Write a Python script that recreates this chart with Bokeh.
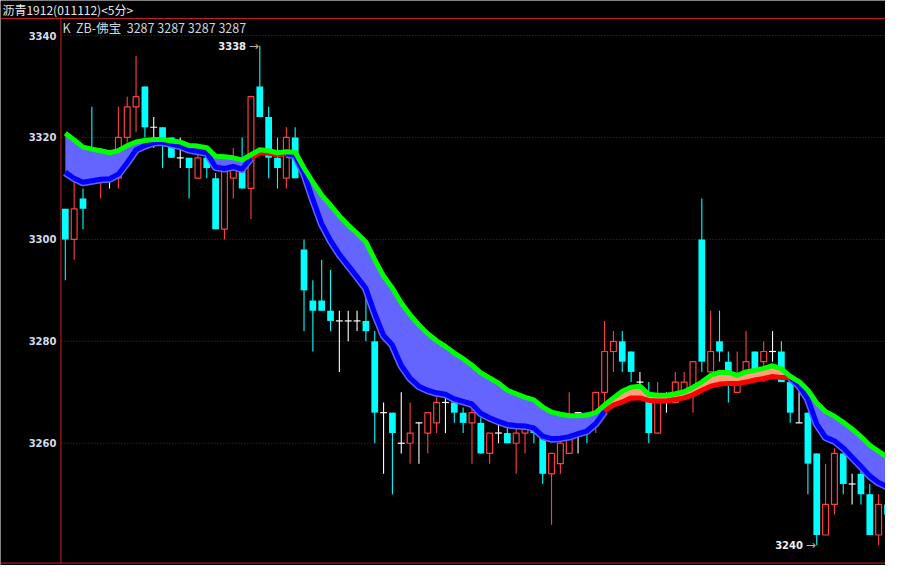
from bokeh.plotting import figure
from bokeh.models import Range1d
from bokeh.core.properties import value
from bokeh.embed import file_html
from bokeh.resources import INLINE

# ---------------- data ----------------
title_text = "沥青1912(011112)<5分>"
legend_text = "K\u00a0\u00a0ZB-佛宝\u00a0\u00a03287 3287 3287 3287"
y_ticks = [3340, 3320, 3300, 3280, 3260]

opens = [3306, 3300, 3308, 3316, 3312, 3314, 3312, 3320, 3326, 3330,
         3322, 3322, 3320, 3316, 3316, 3312, 3316, 3312, 3302, 3312,
         3315, 3310, 3330, 3324, 3316, 3312, 3320, 3298, 3288, 3288,
         3286, 3284, 3284, 3284, 3284, 3280, 3266, 3266, 3260, 3260,
         3264, 3262, 3264, 3268, 3268, 3266, 3264, 3264, 3258, 3262,
         3262, 3260, 3262, 3263, 3262, 3254, 3256, 3258, 3266, 3266,
         3266, 3270, 3278, 3280, 3278, 3272, 3270, 3262, 3268, 3268,
         3270, 3270, 3300, 3274, 3280, 3276, 3270, 3274, 3278, 3276,
         3278, 3278, 3272, 3264, 3266, 3258, 3242, 3248, 3258, 3252,
         3254, 3250, 3242, 3248]
highs = [3306, 3312, 3310, 3326, 3318, 3314, 3326, 3328, 3336, 3330,
         3324, 3322, 3320, 3320, 3316, 3317, 3316, 3313, 3314, 3318,
         3320, 3328, 3338, 3326, 3320, 3322, 3322, 3300, 3292, 3296,
         3294, 3286, 3286, 3286, 3290, 3282, 3268, 3266, 3270, 3268,
         3264, 3266, 3269, 3269, 3268, 3267, 3267, 3265, 3262, 3264,
         3263, 3263, 3264, 3263, 3262, 3258, 3261, 3270, 3266, 3266,
         3270, 3284, 3282, 3282, 3278, 3274, 3272, 3272, 3270, 3274,
         3274, 3276, 3308, 3286, 3286, 3278, 3278, 3282, 3278, 3280,
         3282, 3280, 3273, 3270, 3266, 3258, 3256, 3259, 3258, 3254,
         3255, 3252, 3250, 3250]
lows = [3292, 3296, 3302, 3312, 3308, 3310, 3310, 3319, 3321, 3320,
        3318, 3314, 3316, 3314, 3308, 3312, 3312, 3302, 3300, 3308,
        3310, 3304, 3324, 3312, 3310, 3310, 3312, 3282, 3278, 3286,
        3282, 3274, 3280, 3282, 3280, 3260, 3254, 3250, 3258, 3256,
        3256, 3258, 3262, 3262, 3264, 3262, 3256, 3258, 3256, 3260,
        3260, 3254, 3258, 3260, 3252, 3244, 3254, 3258, 3258, 3260,
        3262, 3268, 3274, 3274, 3272, 3271, 3260, 3262, 3266, 3268,
        3270, 3266, 3274, 3274, 3276, 3268, 3270, 3274, 3274, 3272,
        3276, 3272, 3264, 3264, 3250, 3240, 3242, 3246, 3250, 3248,
        3248, 3242, 3240, 3244]
closes = [3300, 3306, 3306, 3313, 3316, 3314, 3320, 3326, 3328, 3322,
          3322, 3319, 3316, 3316, 3314, 3316, 3314, 3302, 3314, 3314,
          3310, 3328, 3324, 3316, 3314, 3320, 3312, 3290, 3286, 3286,
          3284, 3284, 3284, 3284, 3282, 3266, 3266, 3262, 3260, 3262,
          3264, 3266, 3268, 3268, 3266, 3264, 3266, 3258, 3262, 3262,
          3260, 3262, 3264, 3262, 3254, 3258, 3260, 3262, 3266, 3265,
          3270, 3278, 3280, 3276, 3274, 3272, 3262, 3268, 3268, 3272,
          3272, 3276, 3276, 3278, 3278, 3274, 3272, 3276, 3274, 3278,
          3278, 3272, 3266, 3264, 3256, 3242, 3248, 3258, 3252, 3252,
          3250, 3242, 3248, 3246]

band_upper = [3320.8, 3319.5, 3318.1, 3317.7, 3317.4, 3317.0, 3317.4, 3318.4, 3319.1, 3319.4,
              3319.6, 3319.6, 3319.3, 3319.1, 3318.4, 3318.3, 3318.0, 3316.3, 3316.2, 3316.0,
              3315.6, 3316.6, 3317.6, 3317.4, 3317.0, 3317.2, 3317.1, 3314.0, 3311.2, 3308.7,
              3306.7, 3304.6, 3302.8, 3301.2, 3299.5, 3296.0, 3292.8, 3290.4, 3287.5, 3285.2,
              3283.2, 3281.5, 3280.1, 3279.0, 3277.7, 3276.6, 3275.3, 3273.8, 3272.8, 3271.8,
              3270.4, 3269.7, 3269.0, 3268.5, 3267.1, 3266.1, 3265.7, 3265.4, 3265.4, 3265.5,
              3266.0, 3267.5, 3268.9, 3270.2, 3271.0, 3271.2, 3269.6, 3269.4, 3269.4, 3269.7,
              3270.1, 3271.0, 3272.0, 3273.3, 3273.9, 3273.9, 3273.3, 3274.0, 3274.3, 3274.7,
              3275.2, 3274.6, 3273.1, 3272.1, 3270.4, 3267.9, 3266.2, 3265.3, 3264.1, 3262.8,
              3261.3, 3259.6, 3258.4, 3257.3]
band_lower = [3313.2, 3312.0, 3311.2, 3311.5, 3311.8, 3311.9, 3312.8, 3315.1, 3317.6, 3318.4,
              3319.0, 3319.1, 3318.7, 3318.3, 3317.6, 3317.3, 3317.0, 3314.2, 3313.9, 3314.3,
              3313.8, 3316.0, 3317.0, 3316.9, 3316.6, 3316.8, 3316.5, 3313.0, 3307.9, 3303.1,
              3299.8, 3297.1, 3294.9, 3292.7, 3290.4, 3285.5, 3281.2, 3279.3, 3275.3, 3272.8,
              3271.2, 3270.4, 3269.9, 3269.6, 3268.7, 3268.2, 3267.7, 3265.9, 3265.0, 3264.3,
              3263.7, 3263.5, 3263.4, 3263.0, 3261.4, 3260.9, 3261.0, 3261.3, 3261.9, 3262.4,
              3263.9, 3266.3, 3267.5, 3268.1, 3268.9, 3268.9, 3268.4, 3268.3, 3268.3, 3268.6,
              3268.9, 3269.5, 3270.4, 3271.2, 3271.6, 3271.7, 3271.7, 3272.0, 3272.4, 3272.7,
              3273.1, 3272.9, 3272.9, 3271.3, 3268.7, 3263.8, 3261.2, 3260.5, 3259.1, 3257.3,
              3255.5, 3253.6, 3252.3, 3251.5]
# band state per bar: "b" = lower line blue, "r" = lower line red
band_mode = ("b" * 21) + ("r" * 4) + ("b" * 36) + ("r" * 21) + ("b" * 12)

# ---------------- layout helpers (reference pixel -> data) ----------------
W, H = 885, 565
def px(rx):
    return (rx - 66) / 9.0
def py(ry):
    return 3340 - (ry - 36) / 5.241

n = len(opens)
idx = list(range(n))

p = figure(width=W, height=H, output_backend="svg", toolbar_location=None,
           x_range=Range1d(px(0), px(901)), y_range=Range1d(py(581), py(0)),
           x_axis_type=None, y_axis_type=None, min_border=0,
           background_fill_color="black", border_fill_color="black")
p.outline_line_color = None
p.grid.visible = False

FRAME = "#C42020"
GRID = "#8C1A1A"

# dotted grid
p.segment(x0=[px(62)] * len(y_ticks), x1=[px(901)] * len(y_ticks), y0=y_ticks, y1=y_ticks,
          line_color=GRID, line_width=1, line_dash="1 2")

# candles
up = [i for i in idx if closes[i] > opens[i]]
dn = [i for i in idx if closes[i] < opens[i]]
fl = [i for i in idx if closes[i] == opens[i]]
RED, CYAN, WHITE = "#FF4040", "#00FFFF", "#FFFFFF"

for grp, col in ((up, RED), (dn, CYAN), (fl, WHITE)):
    p.segment(x0=grp, x1=grp, y0=[lows[i] for i in grp], y1=[highs[i] for i in grp],
              line_color=col, line_width=1.1)

p.vbar(x=dn, width=0.76, bottom=[closes[i] for i in dn], top=[opens[i] for i in dn],
       fill_color=CYAN, line_color=None)
p.vbar(x=up, width=0.66, bottom=[opens[i] for i in up], top=[closes[i] for i in up],
       fill_color="black", line_color=RED, line_width=1.2)
p.segment(x0=[i - 0.39 for i in fl], x1=[i + 0.39 for i in fl],
          y0=[opens[i] for i in fl], y1=[opens[i] for i in fl],
          line_color=WHITE, line_width=1.2)

# band runs
runs = []
s = 0
for i in range(1, n + 1):
    if i == n or band_mode[i] != band_mode[s]:
        runs.append((s, min(i, n - 1), band_mode[s]))
        s = i

FILL = {"b": "#6464FF", "r": "#FFA07A"}
LINE = {"b": "#0000FF", "r": "#FF0000"}
for a, b, m in runs:
    xs = idx[a:b + 1]
    p.varea(x=xs, y1=band_lower[a:b + 1], y2=band_upper[a:b + 1], fill_color=FILL[m])
for a, b, m in runs:
    xs = idx[a:b + 1]
    if m == "b":
        p.line(xs, band_lower[a:b + 1], line_color="#6464FF", line_width=8, line_join="round")
for a, b, m in runs:
    xs = idx[a:b + 1]
    p.line(xs, band_lower[a:b + 1], line_color=LINE[m], line_width=5, line_join="round")
p.line(idx, band_upper, line_color="#00FF00", line_width=5, line_join="round")

# high / low markers
hi = max(highs)
hi_i = highs.index(hi)
lo = min(lows)
lo_i = lows.index(lo)
for k, v in ((hi_i, hi), (lo_i, lo)):
    p.text(x=[k - 0.12], y=[v], text=["→"], text_color="#B4B4B4",
           text_font=value("DejaVu Sans"), text_font_size="12px",
           text_align="right", text_baseline="middle")
    p.text(x=[k - 14 / 9.0], y=[v], text=[str(v)], text_color="#F0F0F0",
           text_font=value("DejaVu Sans"), text_font_size="10px", text_font_style="bold",
           text_align="right", text_baseline="middle")

# y tick labels
p.text(x=[px(57)] * len(y_ticks), y=y_ticks, text=[str(t) for t in y_ticks],
       text_color="#D4DCEC", text_font=value("DejaVu Sans"), text_font_size="10px",
       text_font_style="bold", text_align="right", text_baseline="middle")

# header texts
p.text(x=[px(2)], y=[py(9)], text=[title_text], text_color="#E8E8E8",
       text_font=value("Noto Sans CJK SC"), text_font_size="12px",
       text_align="left", text_baseline="middle")
p.text(x=[px(63)], y=[py(28)], text=[legend_text], text_color="#D0D4DC",
       text_font=value("Noto Sans CJK SC"), text_font_size="12.5px",
       text_align="left", text_baseline="middle")

# frame lines
p.segment(x0=[px(0), px(0), px(61.5)], x1=[px(901), px(901), px(61.5)],
          y0=[py(18.5), py(578.5), py(18.5)], y1=[py(18.5), py(578.5), py(578.5)],
          line_color=FRAME, line_width=1)

open("out.html", "w").write(file_html(p, INLINE))
